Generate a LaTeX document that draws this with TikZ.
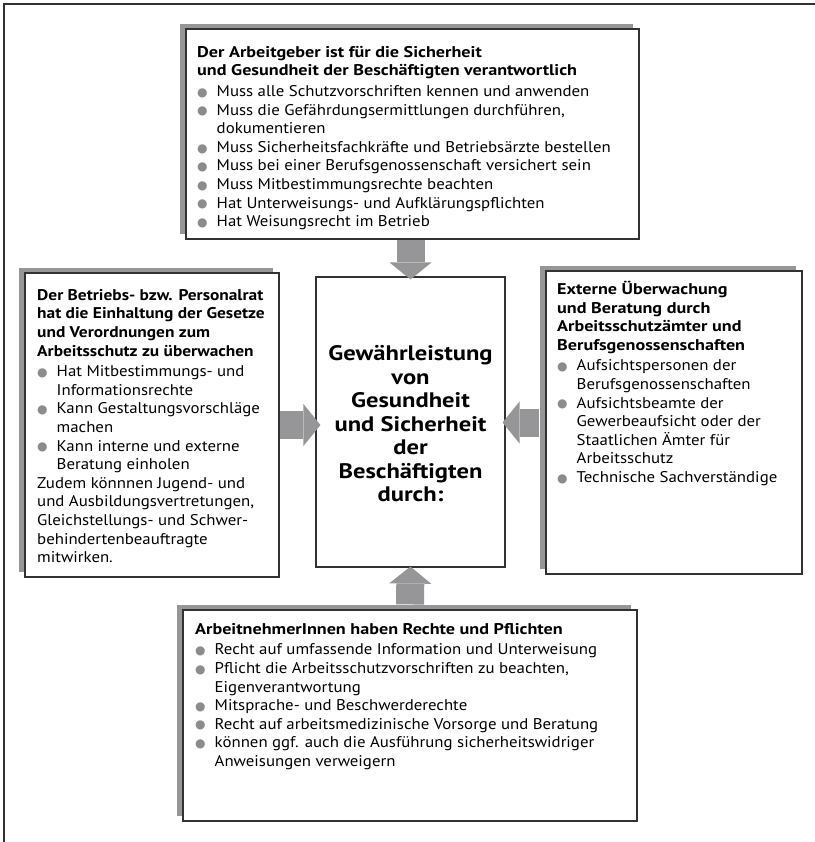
\documentclass[tikz,border=0pt]{standalone}
\usepackage{fontspec}
\setmainfont{PT Sans}[FakeStretch=1.085, BoldFeatures={FakeStretch=1.17}]
\newfontfamily\leftfont{PT Sans}[FakeStretch=1.085, BoldFeatures={FakeStretch=1.12}]
\newfontfamily\bulletfont{DejaVu Sans}
\usetikzlibrary{shadows,arrows.meta}
\definecolor{shadowgray}{RGB}{150,150,152}
\definecolor{bulletgray}{RGB}{140,140,140}
\definecolor{linegray}{RGB}{50,50,50}
\newcommand\bl{\makebox[19.5bp][l]{\raisebox{0.3bp}{\textcolor{bulletgray}{\bulletfont\fontsize{12bp}{12bp}\selectfont ●}}}}
\newcommand\ind{\hspace*{19.5bp}}
\begin{document}
\begin{tikzpicture}[x=1bp,y=-1bp,
  box/.style={draw=linegray, line width=1.1bp, fill=white, rectangle, inner sep=0pt,
    general shadow={fill=shadowgray, shadow xshift=-6bp, shadow yshift=5bp}},
  mainbox/.style={draw=linegray, line width=1.1bp, fill=white, rectangle, inner sep=0pt},
  txt/.style={anchor=north west, inner sep=0pt, align=left, font=\fontsize{15.5bp}{18.6bp}\selectfont},
  lefttxt/.style={txt, font=\leftfont\fontsize{15.5bp}{18.6bp}\selectfont},
  centertxt/.style={inner sep=0pt, align=center, font=\bfseries\fontsize{21bp}{23.5bp}\selectfont},
  bigarrow/.style={draw=shadowgray, line width=28bp, -{Triangle[width=42bp,length=17bp,line width=0pt]}}
]
\useasboundingbox (0,0) rectangle (815,842);
\draw[line width=1.5bp, linegray] (4,842) -- (4,4) -- (815,4);

\node[box, minimum width=453bp, minimum height=210bp] (top) at (412.5,134) {};
\node[box, minimum width=254bp, minimum height=304bp] (left) at (152,425) {};
\node[box, minimum width=256bp, minimum height=303bp] (right) at (674,422.5) {};
\node[box, minimum width=454bp, minimum height=211bp] (bottom) at (410,715.5) {};
\node[mainbox, minimum width=189bp, minimum height=290bp] (center) at (410.5,422) {};

\node[txt] (toptext) at (197,46) {\textbf{Der Arbeitgeber ist für die Sicherheit}\\
\textbf{und Gesundheit der Beschäftigten verantwortlich}\\[2bp]
\bl Muss alle Schutzvorschriften kennen und anwenden\\
\bl Muss die Gefährdungsermittlungen durchführen,\\
\ind dokumentieren\\
\bl Muss Sicherheitsfachkräfte und Betriebsärzte bestellen\\
\bl Muss bei einer Berufsgenossenschaft versichert sein\\
\bl Muss Mitbestimmungsrechte beachten\\
\bl Hat Unterweisungs- und Aufklärungspflichten\\
\bl Hat Weisungsrecht im Betrieb};

\node[lefttxt] (lefttext) at (37,289) {\textbf{Der Betriebs- bzw. Personalrat}\\
\textbf{hat die Einhaltung der Gesetze}\\
\textbf{und Verordnungen zum}\\
\textbf{Arbeitsschutz zu überwachen}\\[2bp]
\bl Hat Mitbestimmungs- und\\
\ind Informationsrechte\\
\bl Kann Gestaltungsvorschläge\\
\ind machen\\
\bl Kann interne und externe\\
\ind Beratung einholen\\
Zudem könnnen Jugend- und\\
und Ausbildungsvertretungen,\\
Gleichstellungs- und Schwer-\\
behindertenbeauftragte\\
mitwirken.};

\node[txt] (righttext) at (557,281) {\textbf{Externe Überwachung}\\
\textbf{und Beratung durch}\\
\textbf{Arbeitsschutzämter und}\\
\textbf{Berufsgenossenschaften}\\[2bp]
\bl Aufsichtspersonen der\\
\ind Berufsgenossenschaften\\
\bl Aufsichtsbeamte der\\
\ind Gewerbeaufsicht oder der\\
\ind Staatlichen Ämter für\\
\ind Arbeitsschutz\\
\bl Technische Sachverständige};

\node[txt] (bottomtext) at (195,623) {\textbf{ArbeitnehmerInnen haben Rechte und Pflichten}\\[2bp]
\bl Recht auf umfassende Information und Unterweisung\\
\bl Pflicht die Arbeitsschutzvorschriften zu beachten,\\
\ind Eigenverantwortung\\
\bl Mitsprache- und Beschwerderechte\\
\bl Recht auf arbeitsmedizinische Vorsorge und Beratung\\
\bl können ggf. auch die Ausführung sicherheitswidriger\\
\ind Anweisungen verweigern};

\node[centertxt] (centertext) at (410.5,424) {Gewährleistung\\von\\Gesundheit\\und Sicherheit\\der\\Beschäftigten\\durch:};

\draw[bigarrow] (center.north |- top.south) -- ([shift={(0,3)}]center.north);
\draw[bigarrow] (left.east) -- ([shift={(5,0)}]center.west |- left.east);
\draw[bigarrow] ([shift={(-6,0)}]right.west) -- ([shift={(-3,0)}]center.east |- right.west);
\draw[bigarrow] ([shift={(0,-5)}]bottom.north) -- ([shift={(0,-1)}]center.south);
\end{tikzpicture}
\end{document}
